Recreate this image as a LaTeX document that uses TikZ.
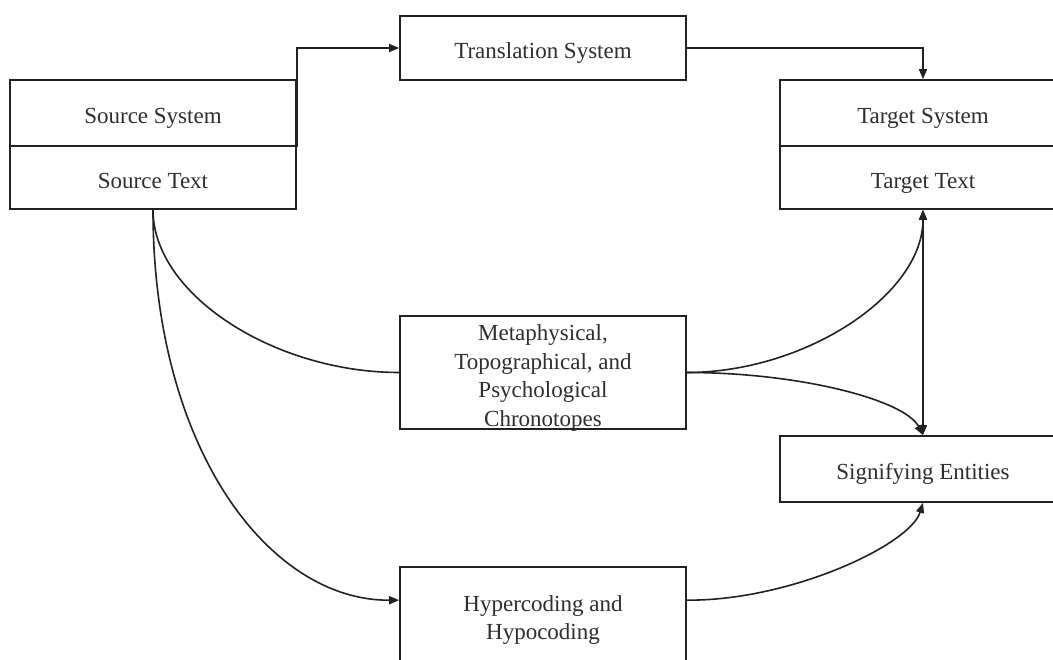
\documentclass[tikz,border=0pt]{standalone}
\usepackage{fontspec}
\setmainfont{Liberation Serif}
\usetikzlibrary{arrows.meta}
\definecolor{ink}{HTML}{222222}
\definecolor{txt}{HTML}{2E2E2E}
\newcommand{\toplift}{\rule{0pt}{22pt}}
\tikzset{
  box/.style={draw=ink, line width=1.7pt, fill=white, minimum width=286pt,
    inner sep=0pt, align=center, text=txt, text depth=0pt,
    execute at begin node={\rule{0pt}{21.5pt}},
    font=\fontsize{23}{28.5}\selectfont},
  link/.style={draw=ink, line width=1.6pt},
  tip/.style={-{Triangle[length=10pt,width=8pt]}},
  tips/.style={{Triangle[length=10pt,width=8pt]}-{Triangle[length=10pt,width=8pt]}}
}
\begin{document}
\begin{tikzpicture}[x=1pt, y=-1pt]
\useasboundingbox (0,0) rectangle (1053,660);
\fill[white] (0,0) rectangle (1053,660);
\clip (0,0) rectangle (1053,660);

% boxes
\node[box, minimum height=64pt]  (trans)   at (543,48)    {Translation System};
\node[box, minimum height=66pt]  (srcsys)  at (153,113)   {Source System};
\node[box, minimum height=63pt]  (srctext) at (153,177.5) {Source Text};
\node[box, minimum height=66pt]  (tgtsys)  at (923,113)   {Target System};
\node[box, minimum height=63pt]  (tgttext) at (923,177.5) {Target Text};
\node[box, minimum height=113pt] (meta)    at (543,372.5) {\toplift Metaphysical,\\Topographical, and\\Psychological\\Chronotopes};
\node[box, minimum height=66pt]  (sig)     at (923,469)   {Signifying Entities};
\node[box, minimum height=101pt] (hyp)     at (543,617.5) {Hypercoding and\\Hypocoding};

% attachment points on the hypercoding box
\coordinate (hypin)  at ([yshift=-34pt]hyp.north west);
\coordinate (hypout) at ([yshift=-34pt]hyp.north east);

% connectors
\draw[link, tip] (srcsys.south east) |- (trans.west);
\draw[link, tip] (trans.east) -| (tgtsys.north);
\draw[link] (srctext.south) .. controls (153,295) and (275,372.5) .. (meta.west);
\draw[link, tip] (srctext.south) .. controls (153,450) and (270,601) .. (hypin);
\draw[link, tip] (meta.east) .. controls (805,372.5) and (923,295) .. (tgttext.south);
\draw[link, tip] (meta.east) .. controls (800,372.5) and (905,400) .. (sig.north);
\draw[link, tips] (tgttext.south) -- (sig.north);
\draw[link, tip] (hypout) .. controls (790,601) and (910,545) .. (sig.south);
\end{tikzpicture}
\end{document}
